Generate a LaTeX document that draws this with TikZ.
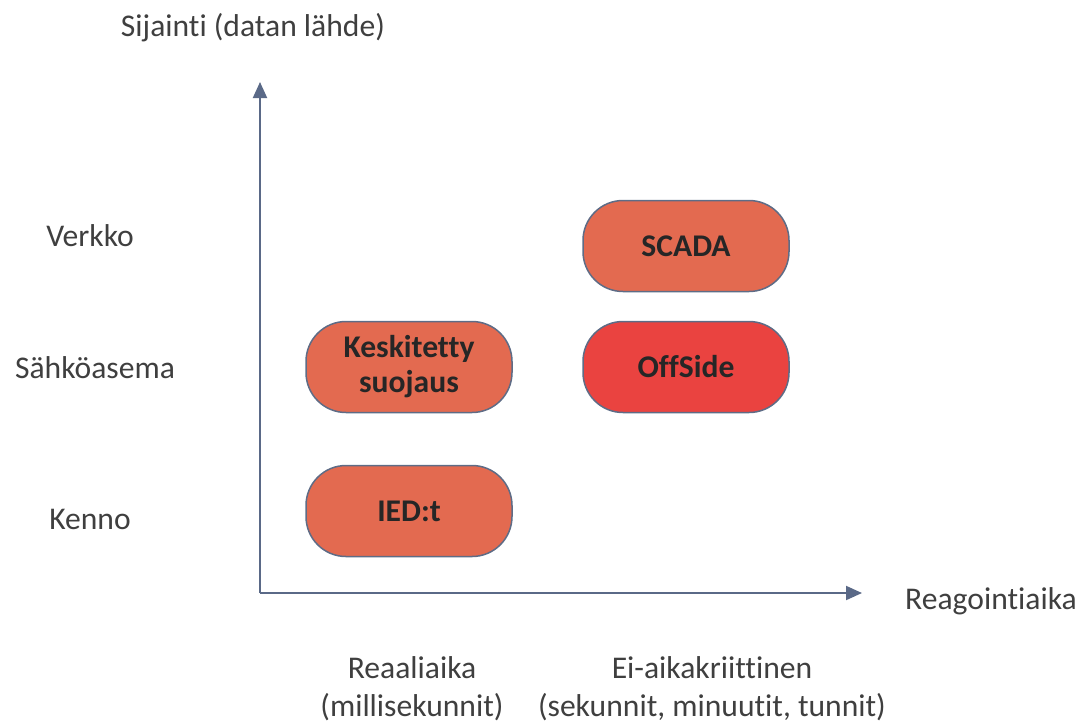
\documentclass[tikz,border=0pt]{standalone}
\usepackage{fontspec}
\setmainfont{Carlito}[Ligatures=NoCommon]
\usepackage{tikz}
\usetikzlibrary{positioning,arrows.meta}

\definecolor{axisblue}{HTML}{5A6987}
\definecolor{boxfill}{HTML}{E36A50}
\definecolor{hotfill}{HTML}{EA4340}
\definecolor{boxline}{HTML}{5E6C86}
\definecolor{labelgrey}{HTML}{3F3F3F}

\tikzset{
    area/.style={draw=boxline, line width=0.75pt, fill=boxfill, rounded corners=20pt,
        minimum width=103pt, minimum height=45.5pt, inner sep=0pt, align=center,
        font=\fontsize{15.8}{17.5}\selectfont\bfseries, text=black!85},
    axislabel/.style={text=labelgrey, font=\fontsize{15.8}{19}\selectfont, align=center},
    axis/.style={draw=axisblue, line width=1pt, -{Triangle[length=8pt,width=7pt]}}
}

\begin{document}
\begin{tikzpicture}[x=0.5pt, y=-0.5pt]
    \useasboundingbox (0,0) rectangle (1086,724);

    % axes
    \coordinate (o) at (260,593);
    \coordinate (ytip) at (260,82);
    \coordinate (xtip) at (862,593);
    \draw[axis] (o) -- (ytip);
    \draw[axis] (o) -- (xtip);

    \node[axislabel] (ytitle) at (253,28) {Sijainti (datan lähde)};
    \node[axislabel] (xtitle) at (991,601) {Reagointiaika};

    % tasot
    \node[axislabel] (verkko) at (90,236) {Verkko};
    \node[axislabel] (asema) at (95,368) {Sähköasema};
    \node[axislabel] (kenno) at (90,519) {Kenno};

    % aikaskaala
    \node[axislabel] (reaali) at (412,689) {Reaaliaika\\(millisekunnit)};
    \node[axislabel] (eiaika) at (712,689) {Ei-aikakriittinen\\(sekunnit, minuutit, tunnit)};

    % järjestelmät
    \node[area] (scada) at (686,246) {SCADA};
    \node[area] (keskitetty) at (409,367) {Keskitetty\\suojaus};
    \node[area, fill=hotfill] (offside) at (686,367) {OffSide};
    \node[area] (ied) at (409,511) {IED:t};
\end{tikzpicture}
\end{document}
